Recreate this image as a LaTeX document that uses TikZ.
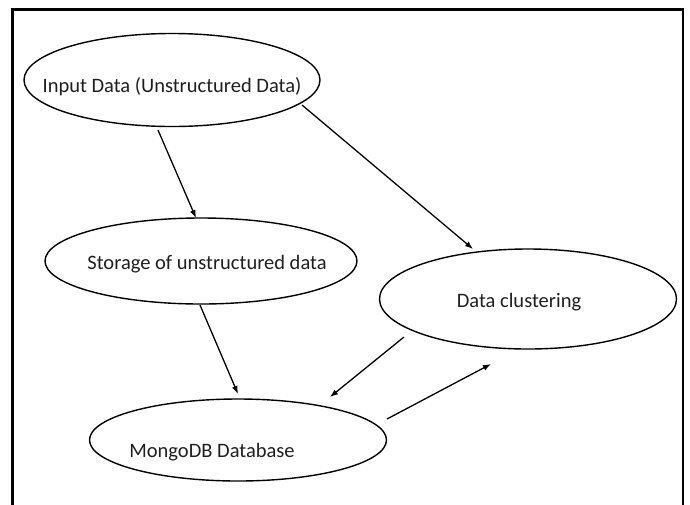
\documentclass[tikz,border=0pt]{standalone}
\usepackage{fontspec}
\setmainfont{Carlito}
\usetikzlibrary{shapes.geometric,arrows.meta}
\begin{document}
\begin{tikzpicture}[x=1pt,y=-1pt,
  ell/.style={draw=black,ellipse,line width=1.4pt,inner sep=0pt},
  lbl/.style={font=\fontsize{20.5}{24}\selectfont,text=black!88,inner sep=0pt},
  arr/.style={line width=1.3pt,-{Latex[length=8pt,width=6pt]}}]
\useasboundingbox (0,0) rectangle (690,504);
\begin{scope}
\clip (0,0) rectangle (690,504);
\draw[line width=2.6pt] (12.5,9.5) rectangle (683,540);
\end{scope}
\node[ell,minimum width=296pt,minimum height=93pt] (in) at (172,80) {};
\node[lbl] (tin) at (172,87) {Input Data (Unstructured Data)};
\node[ell,minimum width=312pt,minimum height=86pt] (st) at (201,261) {};
\node[lbl] (tst) at (207,264) {Storage of unstructured data};
\node[ell,minimum width=297pt,minimum height=100pt] (cl) at (528,299) {};
\node[lbl] (tcl) at (519,302) {Data clustering};
\node[ell,minimum width=297pt,minimum height=82pt] (db) at (238,440) {};
\node[lbl] (tdb) at (212,452) {MongoDB Database};
\draw[arr] ([shift={(-14,50)}]in.center) -- ([shift={(-5,-43)}]st.center);
\draw[arr] ([shift={(130,25)}]in.center) -- ([shift={(-55,-50)}]cl.center);
\draw[arr] ([shift={(-1,44)}]st.center) -- ([shift={(0,-46)}]db.center);
\draw[arr] ([shift={(-124,38)}]cl.center) -- ([shift={(92,-43)}]db.center);
\draw[arr] ([shift={(149,-21)}]db.center) -- ([shift={(-37,65)}]cl.center);
\end{tikzpicture}
\end{document}
